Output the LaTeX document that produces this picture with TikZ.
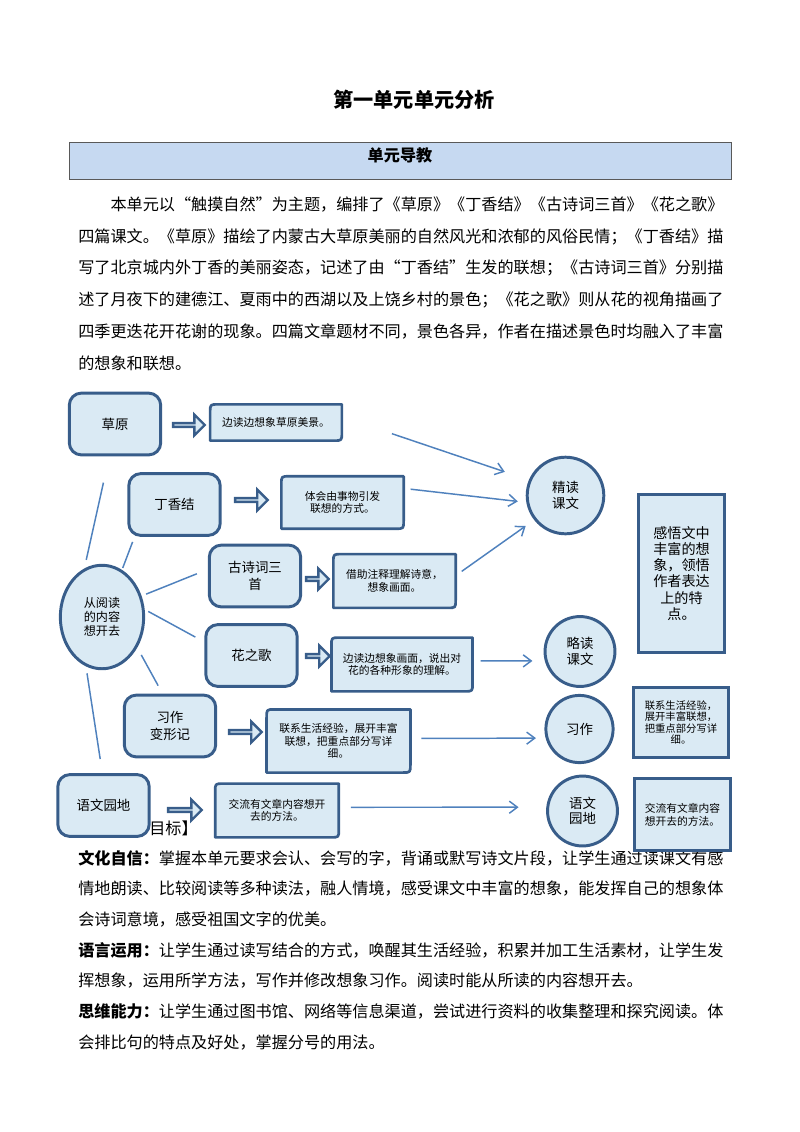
\documentclass[tikz,border=0pt]{standalone}
\usepackage{fontspec}
\setmainfont{Noto Sans CJK SC}
\usetikzlibrary{positioning,arrows.meta,shapes.geometric,shapes.arrows,backgrounds}
\XeTeXlinebreaklocale "zh"
\XeTeXlinebreakskip=0pt plus 2pt
\definecolor{bdblue}{RGB}{56,93,138}
\definecolor{lblue}{RGB}{218,234,244}
\definecolor{lnblue}{RGB}{79,129,189}
\definecolor{hdblue}{RGB}{198,217,241}

\begin{document}
\begin{tikzpicture}[x=0.744pt,y=-0.744pt,
  para/.style={anchor=west,inner sep=0pt,font=\fontsize{12pt}{12pt}\selectfont},
  src/.style={draw=bdblue,fill=lblue,line width=2.2pt,rounded corners=9pt,minimum width=68pt,minimum height=46pt,inner sep=0pt,align=center,font=\fontsize{10pt}{12.4pt}\selectfont},
  note/.style={inner sep=0pt,outer sep=0pt,align=center,font=\fontsize{8pt}{9.3pt}\selectfont},
  blk/.style={single arrow,draw=bdblue,fill=lblue,line width=1.8pt,minimum width=15.5pt,single arrow head extend=4.1pt,inner sep=0pt},
  rnd/.style={circle,draw=bdblue,fill=lblue,line width=2.2pt,inner sep=0pt,align=center,font=\fontsize{10pt}{11.4pt}\selectfont},
  side/.style={draw=bdblue,fill=lblue,line width=2.2pt,inner sep=0pt,align=center},
  link/.style={draw=lnblue,line width=1.1pt},
  goto/.style={link,-{Straight Barb[length=6pt,width=9pt]}}]
\useasboundingbox (0,0) rectangle (800,1132);

% page text
\node[font=\bfseries\fontsize{15pt}{15pt}\selectfont] (ttl) at (414,100) {第一单元单元分析};
\node[draw=black!65,fill=hdblue,line width=0.8pt,minimum width=493pt,minimum height=28pt] (hdr) at (400.5,161) {};
\node[font=\bfseries\fontsize{12pt}{12pt}\selectfont] (hdrt) at (400,155) {单元导教};
\foreach \s [count=\i] in {\hspace{2em}本单元以“触摸自然”为主题，编排了《草原》《丁香结》《古诗词三首》《花之歌》,
  四篇课文。《草原》描绘了内蒙古大草原美丽的自然风光和浓郁的风俗民情；《丁香结》描,
  写了北京城内外丁香的美丽姿态，记述了由“丁香结”生发的联想；《古诗词三首》分别描,
  述了月夜下的建德江、夏雨中的西湖以及上饶乡村的景色；《花之歌》则从花的视角描画了,
  四季更迭花开花谢的现象。四篇文章题材不同，景色各异，作者在描述景色时均融入了丰富}
  \node[para] (p\i) at (78,{173.4+31.6*\i}) {\makebox[480pt][s]{\s}};
\node[para] (p6) at (78,363) {的想象和联想。};
\node[para,anchor=east] (mb) at (198,828) {【核心素养目标】};
\node[para] (g1) at (78,858) {\makebox[480pt][s]{\textbf{文化自信：}掌握本单元要求会认、会写的字，背诵或默写诗文片段，让学生通过读课文有感}};
\node[para] (g2) at (78,888.7) {\makebox[480pt][s]{情地朗读、比较阅读等多种读法，融人情境，感受课文中丰富的想象，能发挥自己的想象体}};
\node[para] (g3) at (78,919.4) {会诗词意境，感受祖国文字的优美。};
\node[para] (g4) at (78,950.1) {\makebox[480pt][s]{\textbf{语言运用：}让学生通过读写结合的方式，唤醒其生活经验，积累并加工生活素材，让学生发}};
\node[para] (g5) at (78,980.8) {挥想象，运用所学方法，写作并修改想象习作。阅读时能从所读的内容想开去。};
\node[para] (g6) at (78,1011.5) {\makebox[480pt][s]{\textbf{思维能力：}让学生通过图书馆、网络等信息渠道，尝试进行资料的收集整理和探究阅读。体}};
\node[para] (g7) at (78,1042.2) {会排比句的特点及好处，掌握分号的用法。};

% diagram
\node[src] (cy) at (115,424) {草原};
\node[src] (dxj) at (174.5,504.5) {丁香结};
\node[src] (gsc) at (255,576) {古诗词三\\首};
\node[src] (hzg) at (251.5,655.5) {花之歌};
\node[src] (xzb) at (170,726) {习作\\变形记};
\node[src] (ywy) at (103.5,805.5) {语文园地};
\node[ellipse,draw=bdblue,fill=lblue,line width=2.2pt,minimum width=62pt,minimum height=77pt,inner sep=0pt,align=center,font=\fontsize{9pt}{10.5pt}\selectfont] (rd) at (102,617) {从阅读\\的内容\\想开去};

\node[blk,minimum height=23.5pt] (a1) at (188,425) {};
\node[blk,minimum height=24.2pt] (a2) at (250.5,500) {};
\node[blk,minimum height=16.8pt] (a3) at (316.5,579) {};
\node[blk,minimum height=17.5pt] (a4) at (317,656) {};
\node[blk,minimum height=24.2pt] (a5) at (244.5,732) {};
\node[blk,minimum height=25pt] (a6) at (184,810) {};

\node[note,minimum width=98pt,minimum height=27pt] (t1) at (276,422.5) {边读边想象草原美景。};
\node[note,minimum width=91pt,minimum height=39pt] (t2) at (342.5,502.5) {体会由事物引发\\联想的方式。};
\node[note,minimum width=91pt,minimum height=40pt] (t3) at (394.5,581) {借助注释理解诗意，\\想象画面。};
\node[note,minimum width=105pt,minimum height=40pt] (t4) at (402,664.5) {边读边想象画面，说出对\\花的各种形象的理解。};
\node[note,minimum width=107pt,minimum height=47pt] (t5) at (338.5,741) {联系生活经验，展开丰富\\联想，把重点部分写详\\细。};
\node[note,minimum width=92pt,minimum height=40pt] (t6) at (277,810.5) {交流有文章内容想开\\去的方法。};
\begin{scope}[on background layer]
\foreach \n in {t1,t2,t3,t4,t5,t6}
  \filldraw[draw=bdblue,fill=lblue,line width=2pt,line join=round]
    ([yshift=-6pt]\n.north west) .. controls (\n.north west) .. ([xshift=6pt]\n.north west)
    -- (\n.north east) -- ([yshift=6pt]\n.south east) .. controls (\n.south east) .. ([xshift=-6pt]\n.south east)
    -- (\n.south west) -- cycle;
\end{scope}

\node[rnd,minimum size=57pt] (jd) at (565.5,495.5) {精读\\课文};
\node[rnd,minimum size=52pt] (ld) at (580,651.5) {略读\\课文};
\node[rnd,minimum size=50pt] (xz) at (579.5,729) {习作};
\node[rnd,minimum size=52pt] (yc) at (582.5,811) {语文\\园地};

\node[side,minimum width=64pt,minimum height=118pt,font=\fontsize{10.5pt}{12pt}\selectfont] (gw) at (681.5,573.5) {感悟文中\\丰富的想\\象，领悟\\作者表达\\上的特\\点。};
\node[side,minimum width=71pt,minimum height=52pt,font=\fontsize{7.7pt}{8.6pt}\selectfont] (lx) at (681,722.5) {联系生活经验，\\展开丰富联想，\\把重点部分写详\\细。};
\node[side,minimum width=72pt,minimum height=54pt,font=\fontsize{8pt}{9.5pt}\selectfont] (jl) at (682.5,814.5) {交流有文章内容\\想开去的方法。};

\draw[link,shorten <=6.5pt,shorten >=20pt] (rd.110) -- (cy.260);
\draw[link,shorten <=1.5pt,shorten >=4pt] (rd.67) -- (dxj.219);
\draw[link,shorten <=3.6pt,shorten >=8.8pt] (rd.28) -- (gsc.172);
\draw[link,shorten <=3pt,shorten >=7.6pt] (rd.10) -- (hzg.164);
\draw[link,shorten <=6.2pt,shorten >=6.8pt] (rd.319) -- (xzb.103);
\draw[link,shorten <=5.2pt,shorten >=10.6pt] (rd.252) -- (ywy.92);

\draw[goto,shorten <=39.3pt,shorten >=18.9pt] (t1.5) -- (jd.157);
\draw[goto,shorten <=5.2pt,shorten >=6.4pt] (t2.13) -- (jd.190);
\draw[goto,shorten <=5.5pt,shorten >=7.7pt] (t3.5) -- (jd.218);
\draw[goto,shorten <=6pt,shorten >=9.2pt] (t4.3) -- (ld.195);
\draw[goto,shorten <=8.2pt,shorten >=7.2pt] (t5.2) -- (xz.195);
\draw[goto,shorten <=8.9pt,shorten >=20.6pt] (t6.3) -- (yc.174);
\end{tikzpicture}
\end{document}
